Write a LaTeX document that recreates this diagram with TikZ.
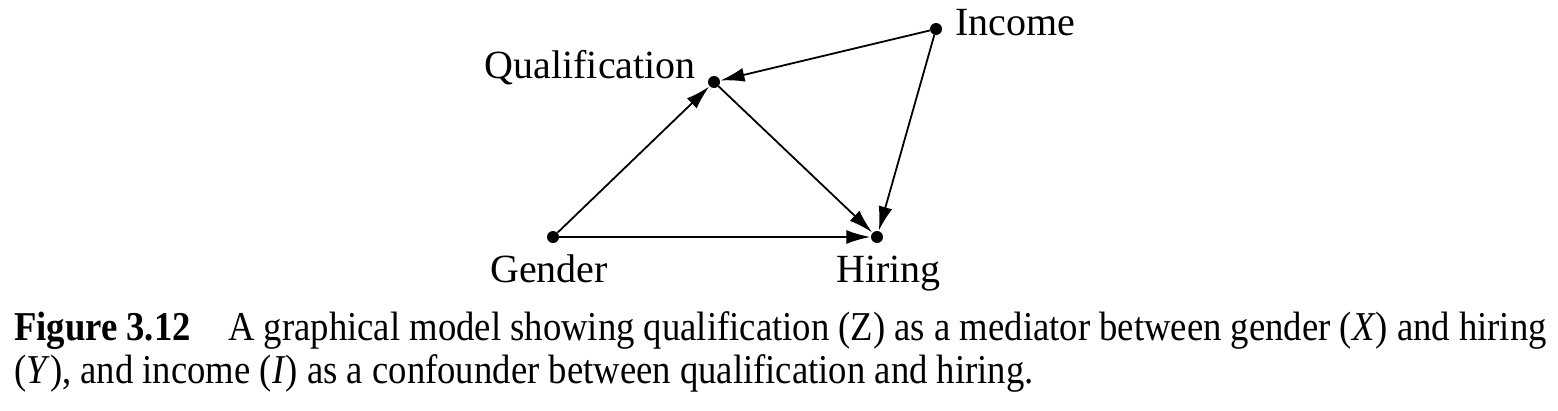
\documentclass[tikz,border=0pt]{standalone}
\usepackage{fontspec}
\setmainfont{Liberation Serif}
\newfontfamily\capfont[FakeStretch=0.895]{Liberation Serif}
\usetikzlibrary{arrows.meta}
\begin{document}
\begin{tikzpicture}[x=1pt,y=-1pt,
  dot/.style={circle,fill=black,inner sep=0pt,minimum size=12pt},
  arr/.style={line width=1.8pt,-{Latex[length=24pt,width=14pt]},shorten >=0.5pt},
  lbl/.style={inner sep=0pt,font=\fontsize{40}{48}\selectfont},
  captext/.style={inner sep=0pt,anchor=base west,font=\capfont\fontsize{41}{48}\selectfont}]
\useasboundingbox (0,0) rectangle (1558,410);
\node[dot] (q) at (714,82) {};
\node[dot] (i) at (936,29) {};
\node[dot] (g) at (553,237) {};
\node[dot] (h) at (877,237) {};
\node[lbl,anchor=base east] (ql) at (696,78) {Qualification};
\node[lbl,anchor=base west] (il) at (955,35) {Income};
\node[lbl,anchor=base west] (gl) at (490,282) {Gender};
\node[lbl,anchor=base west] (hl) at (836,282) {Hiring};
\draw[arr] (g) -- (q);
\draw[arr] (g) -- (h);
\draw[arr] (q) -- (h);
\draw[arr] (i) -- (q);
\draw[arr] (i) -- (h);
\node[captext] (c1) at (14,340) {\bfseries Figure 3.12};
\node[captext] (c2) at (228,340) {A graphical model showing qualification (Z) as a mediator between gender (\textit{X}) and hiring};
\node[captext] (c3) at (14,383) {(\textit{Y}), and income (\textit{I}) as a confounder between qualification and hiring.};
\end{tikzpicture}
\end{document}
